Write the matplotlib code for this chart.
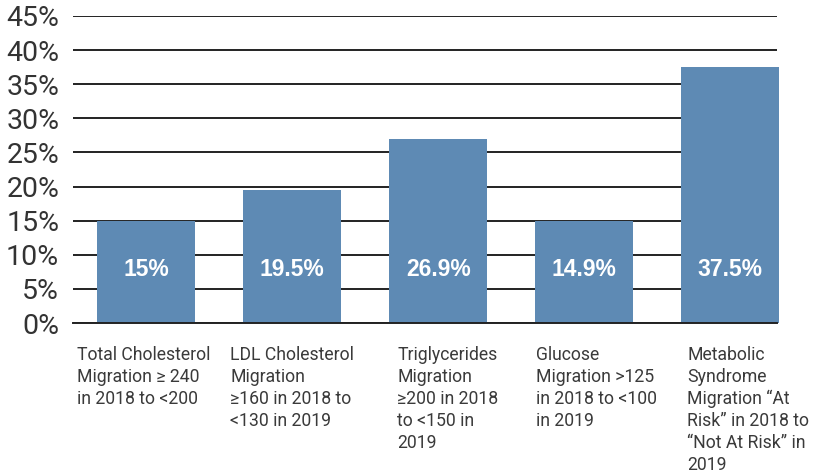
import numpy as np
import matplotlib
matplotlib.use("Agg")
import matplotlib.pyplot as plt

plt.rcParams['font.family'] = ['Roboto', 'DejaVu Sans']

# data
categories = [
    "Total Cholesterol\nMigration \u2265 240\nin 2018 to <200",
    "LDL Cholesterol\nMigration\n\u2265160 in 2018 to\n<130 in 2019",
    "Triglycerides\nMigration\n\u2265200 in 2018\nto <150 in\n2019",
    "Glucose\nMigration >125\nin 2018 to <100\nin 2019",
    "Metabolic\nSyndrome\nMigration \u201cAt\nRisk\u201d in 2018 to\n\u201cNot At Risk\u201d in\n2019",
]
values = [15.0, 19.5, 26.9, 14.9, 37.5]
value_labels = ["15%", "19.5%", "26.9%", "14.9%", "37.5%"]
label_shift = [-0.473, -0.425, -0.281, -0.329, -0.295]

bar_color = "#5e8ab4"

fig = plt.figure(figsize=(8.17, 4.76), dpi=100)
ax = fig.add_axes([0.0894, 0.3214, 0.8616, 0.645])

x = np.arange(len(values))
ax.bar(x, values, width=0.67, color=bar_color, zorder=3, clip_on=False)

for i, lab in enumerate(value_labels):
    ax.text(x[i], 7.8, lab, ha='center', va='center', color='white',
            fontsize=16.5, fontweight='bold', family='Liberation Sans', zorder=4)

for i, cat in enumerate(categories):
    ax.text(x[i] + label_shift[i], -3.3, cat, ha='left', va='top',
            fontsize=12.7, color='#3a3a3a', linespacing=1.29, clip_on=False)

ax.set_xlim(-0.5, 4.32)
ax.set_ylim(0, 45)
ax.set_yticks(np.arange(0, 46, 5))
ax.set_yticklabels([f"{v}%" for v in range(0, 46, 5)])
ax.set_xticks([])
ax.tick_params(axis='y', length=0, pad=10, labelsize=20.5, labelcolor='#333333')
ax.yaxis.grid(True, color='#222222', linewidth=1.4, zorder=0)
for s in ['top', 'right', 'left']:
    ax.spines[s].set_visible(False)
ax.spines['bottom'].set_color('#222222')
ax.spines['bottom'].set_linewidth(1.4)
ax.spines['bottom'].set_zorder(5)

plt.savefig("out.png", dpi=100)
